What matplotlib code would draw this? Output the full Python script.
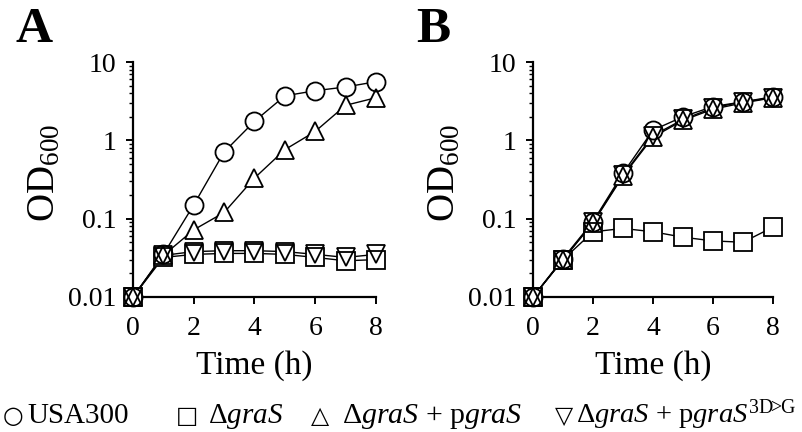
import matplotlib
matplotlib.use("Agg")
import matplotlib.pyplot as plt
from matplotlib.ticker import FixedLocator, FixedFormatter, LogLocator, NullFormatter

plt.rcParams['font.family'] = ['Liberation Serif', 'DejaVu Sans']
plt.rcParams['mathtext.fontset'] = 'custom'
plt.rcParams['mathtext.rm'] = 'Liberation Serif'
plt.rcParams['mathtext.it'] = 'Liberation Serif:italic'
plt.rcParams['mathtext.bf'] = 'Liberation Serif:bold'

# ---------------- data ----------------
time_h = [0, 1, 2, 3, 4, 5, 6, 7, 8]

usa300_A = [0.01, 0.035, 0.15, 0.71, 1.75, 3.7, 4.3, 4.8, 5.6]
grasS_A = [0.01, 0.032, 0.035, 0.036, 0.036, 0.035, 0.032, 0.029, 0.030]
pgraS_A = [0.01, 0.034, 0.072, 0.12, 0.33, 0.76, 1.3, 2.8, 3.5]
pgraS3D_A = [0.01, 0.034, 0.038, 0.039, 0.039, 0.038, 0.035, 0.032, 0.035]

usa300_B = [0.01, 0.031, 0.092, 0.38, 1.35, 2.0, 2.7, 3.1, 3.6]
grasS_B = [0.01, 0.030, 0.068, 0.075, 0.068, 0.058, 0.052, 0.050, 0.078]
pgraS_B = [0.01, 0.030, 0.088, 0.35, 1.1, 1.8, 2.5, 3.0, 3.5]
pgraS3D_B = [0.01, 0.030, 0.090, 0.36, 1.15, 1.85, 2.6, 3.1, 3.5]

series_markers = ['o', 's', '^', 'v']
panel_labels = ['A', 'B']
x_ticks = [0, 2, 4, 6, 8]
y_ticks = [0.01, 0.1, 1, 10]
y_tick_labels = ['0.01', '0.1', '1', '10']

panels = [
    [usa300_A, grasS_A, pgraS_A, pgraS3D_A],
    [usa300_B, grasS_B, pgraS_B, pgraS3D_B],
]

# ---------------- figure ----------------
W, H = 803, 432
fig = plt.figure(figsize=(W / 100, H / 100), dpi=100)

axes_px = [(133, 376), (533, 773)]
bottom_px, top_px = 297, 62

for i, (series, (x0, x1)) in enumerate(zip(panels, axes_px)):
    ax = fig.add_axes([x0 / W, (H - bottom_px) / H, (x1 - x0) / W, (bottom_px - top_px) / H])
    ax.set_yscale('log')
    ax.set_xlim(0, 8)
    ax.set_ylim(0.01, 10)
    ms = 13
    for ys in series:
        ax.plot(time_h, ys, '-', color='black', lw=1.0, zorder=2, clip_on=False)
    for ys, m in zip(series, series_markers):
        ax.plot(time_h, ys, linestyle='none', marker=m, ms=ms, mfc='white',
                mec='none', zorder=3, clip_on=False)
    for ys, m in zip(series, series_markers):
        ax.plot(time_h, ys, linestyle='none', marker=m, ms=ms, mfc='none',
                mec='black', mew=1.3, zorder=4, clip_on=False)

    for s in ['top', 'right']:
        ax.spines[s].set_visible(False)
    for s in ['left', 'bottom']:
        ax.spines[s].set_linewidth(1.6)
        ax.spines[s].set_zorder(1)

    ax.xaxis.set_major_locator(FixedLocator(x_ticks))
    ax.set_xticklabels([str(v) for v in x_ticks])
    ax.yaxis.set_major_locator(FixedLocator(y_ticks))
    ax.yaxis.set_major_formatter(FixedFormatter(y_tick_labels))
    ax.yaxis.set_minor_locator(LogLocator(base=10, subs=range(2, 10)))
    ax.yaxis.set_minor_formatter(NullFormatter())
    ax.tick_params(axis='both', which='major', direction='out', length=5, width=1.4,
                   labelsize=20)
    ax.tick_params(axis='y', which='major', pad=7)
    ax.tick_params(axis='x', which='major', pad=9)
    ax.tick_params(axis='y', which='minor', direction='out', length=3, width=1.0)
    ax.tick_params(axis='x', which='minor', bottom=False)

    xc = (x0 + x1) / 2
    fig.text(xc / W, 1 - 366 / H, 'Time (h)', ha='center', va='center', fontsize=24)
    fig.text((x0 - 88) / W, 1 - 173 / H, r'OD$_{\mathrm{600}}$', ha='center', va='center',
             rotation=90, fontsize=28)
    fig.text((x0 - 117) / W, 1 - 30 / H, panel_labels[i], ha='left', va='center',
             fontsize=37, fontweight='bold')

# ---------------- legend as text ----------------
base_y = 1 - 423 / H
sym_font = ['DejaVu Sans']
legend_syms = ['○', '□', '△', '▽']
legend_sym_x = [3, 176, 311, 555]
legend_texts = ['USA300', r'Δ$\mathit{graS}$', r'Δ$\mathit{graS}$ + p$\mathit{graS}$',
                r'Δ$\mathit{graS}$ + p$\mathit{graS}^{\mathrm{3D}\!\!>\!\!\mathrm{G}}$']
legend_text_x = [27, 208, 342, 576]
legend_sizes = [21, 21, 21.5, 20.5]
for sx, sym, tx, txt, fs in zip(legend_sym_x, legend_syms, legend_text_x, legend_texts,
                                legend_sizes):
    fig.text(sx / W, base_y, sym, family=sym_font, fontsize=17, ha='left', va='baseline')
    fig.text(tx / W, base_y, txt, fontsize=fs, ha='left', va='baseline')

fig.savefig('out.png', dpi=100)
